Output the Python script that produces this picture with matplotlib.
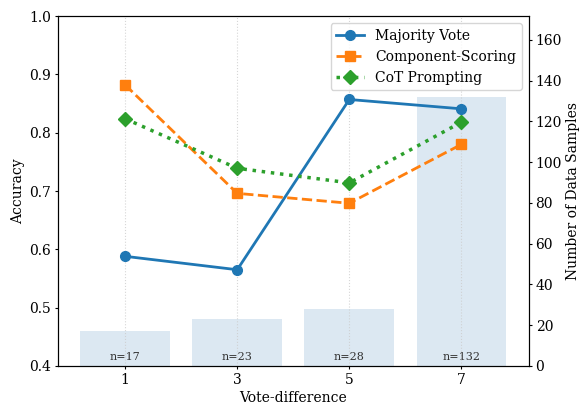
import matplotlib.pyplot as plt
import numpy as np

plt.rcParams['font.family'] = 'DejaVu Serif'

# data
vote_diff = ["1", "3", "5", "7"]
n_samples = [17, 23, 28, 132]
majority = [0.588, 0.565, 0.857, 0.841]
component = [0.882, 0.696, 0.679, 0.780]
cot = [0.824, 0.739, 0.714, 0.818]

x = np.arange(len(vote_diff))

fig, ax = plt.subplots(figsize=(5.79, 4.03), dpi=100)
fig.subplots_adjust(left=0.10, right=0.913, top=0.96, bottom=0.092)

ax2 = ax.twinx()
ax2.bar(x, n_samples, width=0.8, color="#dce8f2", zorder=1)
for xi, n in zip(x, n_samples):
    ax2.text(xi, 2, f"n={n}", ha="center", va="bottom", fontsize=8, color="#333333")
ax2.set_ylim(0, 132 * 1.3)
ax2.set_ylabel("Number of Data Samples", fontsize=10, labelpad=3)
ax2.tick_params(labelsize=10, length=2.5, pad=2.5)

ax.set_zorder(ax2.get_zorder() + 1)
ax.patch.set_visible(False)

ax.plot(x, majority, "-o", color="tab:blue", lw=2, ms=7, label="Majority Vote")
ax.plot(x, component, "--s", color="tab:orange", lw=2, ms=7, label="Component-Scoring")
ax.plot(x, cot, ":D", color="tab:green", lw=2.5, ms=7, label="CoT Prompting")

ax.set_xticks(x)
ax.set_xticklabels(vote_diff)
ax.set_xlim(-0.6, 3.6)
ax.set_ylim(0.4, 1.0)
ax.tick_params(labelsize=10, length=2.5, pad=2.5)
ax.set_xlabel("Vote-difference", fontsize=10, labelpad=3)
ax.set_ylabel("Accuracy", fontsize=10, labelpad=3)
ax.grid(axis="x", linestyle=":", color="#cccccc", alpha=0.8)
ax.legend(loc="upper right", fontsize=10)

plt.savefig("out.png", dpi=100)
